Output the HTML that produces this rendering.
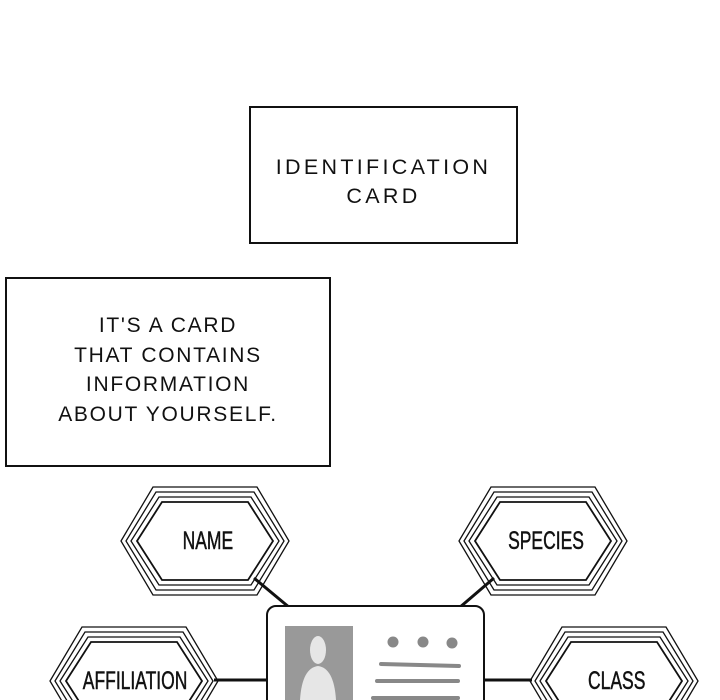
<!DOCTYPE html>
<html><head><style>
body{margin:0;width:720px;height:700px;overflow:hidden;background:#fff;font-family:"Liberation Sans",sans-serif;}
.box{position:absolute;border:2px solid #111;box-sizing:border-box;display:flex;align-items:center;justify-content:center;text-align:center;font-size:21px;line-height:29.5px;color:#111;}
</style></head><body>
<div class="box" style="left:249px;top:106px;width:269px;height:138px;padding-top:14px;letter-spacing:3.3px;font-size:21.5px">IDENTIFICATION<br>CARD</div>
<div class="box" style="left:5px;top:277px;width:326px;height:190px;padding-top:0px;padding-bottom:4px;letter-spacing:1.7px">IT'S A CARD<br>THAT CONTAINS<br>INFORMATION<br>ABOUT YOURSELF.</div>
<svg width="720" height="700" style="position:absolute;left:0;top:0">
<defs>
<g id="hex" fill="none" stroke="#111" stroke-width="1.3">
<polygon points="-84,0 -52,-54 52,-54 84,0 52,54 -52,54"/>
<polygon points="-79,0 -49,-49 49,-49 79,0 49,49 -49,49"/>
<polygon points="-74,0 -46,-44 46,-44 74,0 46,44 -46,44"/>
<polygon points="-68,0 -43,-39 43,-39 68,0 43,39 -43,39" stroke-width="1.8"/>
</g>
</defs>
<g stroke="#111" stroke-width="3">
<line x1="254" y1="578" x2="290" y2="608"/>
<line x1="494" y1="578" x2="459" y2="608"/>
<line x1="214" y1="680" x2="268" y2="680"/>
<line x1="482" y1="680" x2="532" y2="680"/>
</g>
<use href="#hex" x="205" y="541"/>
<use href="#hex" x="543" y="541"/>
<use href="#hex" x="134" y="681"/>
<use href="#hex" x="614" y="681"/>
<rect x="267" y="606" width="217" height="120" rx="9" fill="#fff" stroke="#111" stroke-width="2"/>
<rect x="285" y="626" width="68" height="90" fill="#999"/>
<ellipse cx="318" cy="650" rx="8" ry="14" fill="#e6e6e6"/>
<path d="M300 700 Q302 668 318 666 Q334 668 336 700 Z" fill="#e6e6e6"/>
<circle cx="393" cy="642" r="5.5" fill="#888"/>
<circle cx="423" cy="642" r="5.5" fill="#888"/>
<circle cx="452" cy="643" r="5.5" fill="#888"/>
<g stroke="#888" stroke-width="4" stroke-linecap="round">
<line x1="381" y1="664" x2="459" y2="666"/>
<line x1="377" y1="681" x2="458" y2="681"/>
<line x1="373" y1="698" x2="458" y2="698"/>
</g>
<g font-family="Liberation Sans, sans-serif" font-size="25" fill="#111" stroke="#111" stroke-width="0.5" text-anchor="middle" transform="scale(0.7,1)">
<text x="297" y="549">NAME</text>
<text x="780" y="549">SPECIES</text>
<text x="193" y="689">AFFILIATION</text>
<text x="881" y="689">CLASS</text>
</g>
</svg>
</body></html>
